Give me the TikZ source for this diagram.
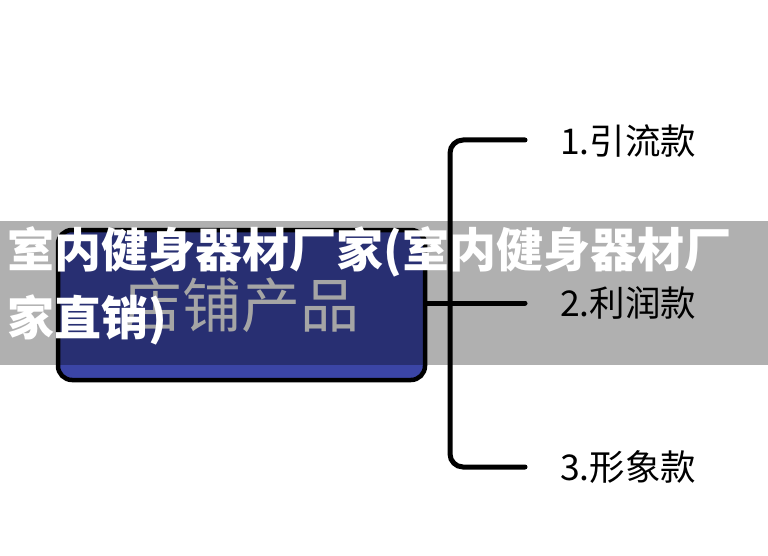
\documentclass[tikz,border=0pt]{standalone}
\usepackage{fontspec}
\newfontfamily\cjk{Noto Sans CJK SC}
\definecolor{boxblue}{RGB}{59,69,166}
\definecolor{boxtext}{RGB}{240,240,240}
\tikzset{
  mainbox/.style={draw=black, line width=4.5pt, fill=boxblue, rounded corners=14pt,
    minimum width=367pt, minimum height=150pt, inner sep=0pt,
    text=boxtext, font=\cjk\fontsize{59}{62}\selectfont},
  branch/.style={draw=black, line width=5pt, line cap=round, rounded corners=13pt},
  label/.style={anchor=west, inner sep=0pt, text=black, font=\cjk\fontsize{35.5}{38}\selectfont},
  banner/.style={fill=black, opacity=0.31},
  bannertext/.style={anchor=base west, inner sep=0pt, text=white, align=left,
    font=\cjk\bfseries\fontsize{47}{68}\selectfont}
}
\begin{document}
\begin{tikzpicture}[x=1pt,y=-1pt]
\useasboundingbox (0,0) rectangle (768,556);
\fill[white] (0,0) rectangle (768,556);
% main box
\node[mainbox] (box) at (241.5,305) {店铺产品};
% branch ends
\coordinate (e1) at (525,140);
\coordinate (e2) at (525,303);
\coordinate (e3) at (525,467);
\coordinate (v3) at (450,467);
\draw[branch] (e1) -| (v3) -- (e3);
\draw[branch, line cap=butt] (box.east |- e2) -- (450,303);
\draw[branch] (450,303) -- (e2);
% labels
\node[label] (l1) at (560,141) {1.引流款};
\node[label] (l2) at (560,303) {2.利润款};
\node[label] (l3) at (560,467) {3.形象款};
% banner
\fill[banner] (0,221) rectangle (768,365);
\node[bannertext] (title) at (7,335) {室内健身器材厂家(室内健身器材厂\\家直销)};
\end{tikzpicture}
\end{document}
